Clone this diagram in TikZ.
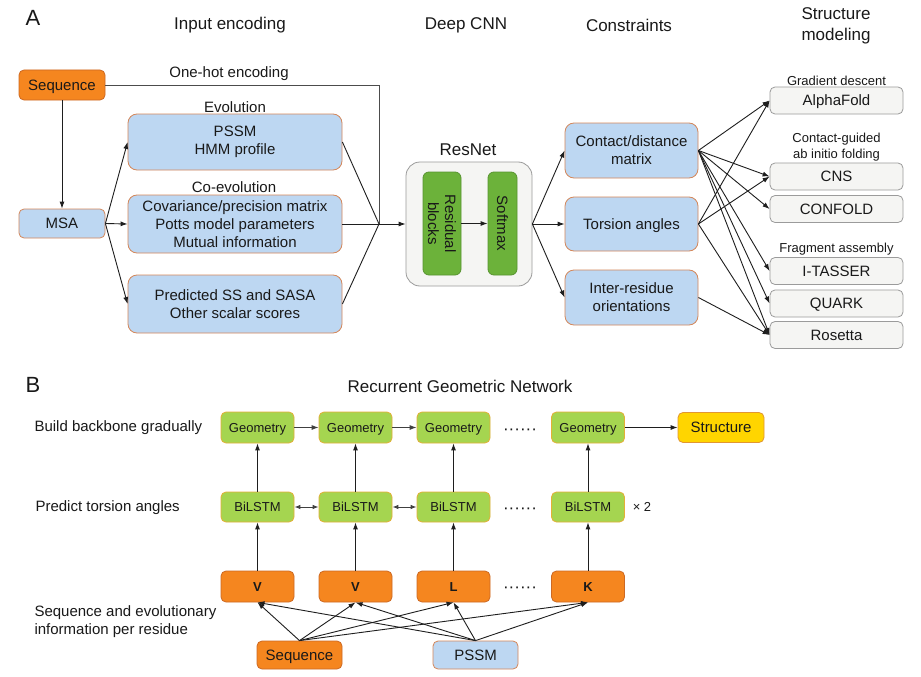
\documentclass[tikz,border=0pt]{standalone}
\usepackage{fontspec}
\setmainfont{Liberation Sans}
\usetikzlibrary{arrows.meta}
\definecolor{orangeF}{RGB}{245,134,31}
\definecolor{orangeD}{RGB}{205,105,35}
\definecolor{blueF}{RGB}{189,215,242}
\definecolor{blueD}{RGB}{212,135,90}
\definecolor{greenA}{RGB}{108,178,58}
\definecolor{greenAD}{RGB}{88,148,48}
\definecolor{greenB}{RGB}{165,213,80}
\definecolor{greenBD}{RGB}{228,175,55}
\definecolor{yellowF}{RGB}{255,213,0}
\definecolor{yellowD}{RGB}{225,150,50}
\definecolor{grayF}{RGB}{245,245,243}
\definecolor{grayD}{RGB}{155,155,155}
\definecolor{txt}{RGB}{25,25,25}
\definecolor{lnk}{RGB}{30,30,30}
\newcommand{\fsz}[2]{\fontsize{#1}{#2}\selectfont}
\begin{document}
\begin{tikzpicture}[x=1pt,y=-1pt,
  every node/.style={text=txt},
  basebox/.style={draw, line width=0.8pt, inner sep=0pt, align=center, font=\fsz{15}{18}},
  one15/.style={text height=10.8pt, text depth=0pt},
  one13/.style={text height=9.4pt, text depth=0pt},
  orangebox/.style={basebox, draw=orangeD, fill=orangeF, rounded corners=5pt},
  bluebox/.style={basebox, draw=blueD, fill=blueF, rounded corners=9pt},
  smallblue/.style={basebox, draw=blueD, fill=blueF, rounded corners=5pt},
  graybox/.style={basebox, one15, draw=grayD, fill=grayF, rounded corners=5pt, minimum width=133pt, minimum height=27pt},
  greenAbox/.style={basebox, draw=greenAD, fill=greenA, rounded corners=6pt},
  greenBbox/.style={basebox, one13, draw=greenBD, fill=greenB, rounded corners=5pt, font=\fsz{13}{16}, minimum width=73pt},
  resbox/.style={basebox, one13, draw=orangeD, fill=orangeF, rounded corners=5pt, font=\fsz{13}{16}\bfseries, minimum width=73pt, minimum height=31pt},
  yellowbox/.style={basebox, one15, draw=yellowD, fill=yellowF, rounded corners=5pt},
  header/.style={align=center, font=\fsz{17}{21}},
  lbl/.style={align=center, font=\fsz{15}{18}},
  slbl/.style={align=center, font=\fsz{13}{16}},
  panel/.style={font=\fsz{22}{26}},
  ln/.style={line width=0.9pt, draw=lnk},
  arr/.style={ln, -{Latex[length=7pt,width=5pt]}},
  darr/.style={ln, {Latex[length=6pt,width=4.5pt]}-{Latex[length=6pt,width=4.5pt]}},
  dots/.style={font=\fsz{17}{20}}
]
\path[fill=white] (0,0) rectangle (921,677);
\useasboundingbox (0,0) rectangle (921,677);

% ---------------- Panel A ----------------
\node[panel] (labA) at (33,18) {A};
\node[header] (hIn) at (230,25) {Input encoding};
\node[header] (hCNN) at (466,25) {Deep CNN};
\node[header] (hCon) at (629,25) {Constraints};
\node[header] (hStr) at (836,26) {Structure\\modeling};

\node[orangebox, one15, minimum width=86pt, minimum height=30pt] (seqA) at (62,85) {Sequence};
\node[smallblue, one15, minimum width=86pt, minimum height=29pt] (msa) at (62,223.5) {MSA};

\node[lbl] (lEvo) at (235,107) {Evolution};
\node[bluebox, minimum width=214pt, minimum height=56pt] (pssmA) at (235,142) {PSSM\\HMM profile};
\node[lbl] (lCoevo) at (234,187) {Co-evolution};
\node[bluebox, minimum width=214pt, minimum height=58pt] (cov) at (235,224) {Covariance/precision matrix\\Potts model parameters\\Mutual information};
\node[bluebox, minimum width=214pt, minimum height=58pt] (pred) at (235,304) {Predicted SS and SASA\\Other scalar scores};

\node[lbl] (lOne) at (229,74) {One-hot encoding};
\coordinate (j) at (379,224);

\node[header] (lRes) at (468,150) {ResNet};
\node[basebox, draw=grayD, fill=grayF, rounded corners=14pt, minimum width=126pt, minimum height=124pt] (resnet) at (469,224) {};
\node[greenAbox, minimum width=38pt, minimum height=103pt] (resblk) at (442,223.5) {};
\node[rotate=-90, align=center, font=\fsz{15}{17}] (resblkT) at (442,223.5) {Residual\\blocks};
\node[greenAbox, minimum width=29pt, minimum height=103pt] (soft) at (502.5,223.5) {};
\node[rotate=-90, font=\fsz{15}{17}] (softT) at (502.5,223.5) {Softmax};

\node[bluebox, minimum width=133pt, minimum height=55pt] (contact) at (631.5,150.5) {Contact/distance\\matrix};
\node[bluebox, one15, minimum width=133pt, minimum height=54pt] (torsion) at (631.5,224) {Torsion angles};
\node[bluebox, minimum width=133pt, minimum height=55pt] (inter) at (631.5,297.5) {Inter-residue\\orientations};

\node[slbl] (lGrad) at (836.5,81) {Gradient descent};
\node[graybox] (af) at (836.5,100.5) {AlphaFold};
\node[slbl] (lCg) at (836.5,147) {Contact-guided\\ab initio folding};
\node[graybox] (cns) at (836.5,176.5) {CNS};
\node[graybox] (confold) at (836.5,209) {CONFOLD};
\node[slbl] (lFrag) at (836.5,249) {Fragment assembly};
\node[graybox] (itasser) at (836.5,271) {I-TASSER};
\node[graybox] (quark) at (836.5,303.5) {QUARK};
\node[graybox] (rosetta) at (836.5,335) {Rosetta};

% connectors A
\draw[arr] (seqA) -- (msa);
\draw[ln, draw=black!70] (seqA.east) -| (j);
\draw[arr] (msa.east) -- (pssmA.west);
\draw[arr] (msa.east) -- (cov.west);
\draw[arr] (msa.east) -- (pred.west);
\draw[ln] (pssmA.east) -- (j);
\draw[ln] (cov.east) -- (j);
\draw[ln] (pred.east) -- (j);
\draw[arr] (j) -- (resnet.west);
\draw[arr] (resblk.east) -- (soft.west);
\draw[arr] (resnet.east) -- (contact.west);
\draw[arr] (resnet.east) -- (torsion.west);
\draw[arr] (resnet.east) -- (inter.west);
\foreach \t in {af,cns,confold,itasser,quark,rosetta}
  \draw[arr] (contact.east) -- (\t.west);
\foreach \t in {af,cns,rosetta}
  \draw[arr] (torsion.east) -- (\t.west);
\draw[arr] (inter.east) -- (rosetta.west);

% ---------------- Panel B ----------------
\node[panel] (labB) at (33,385) {B};
\node[header] (hRGN) at (460,386) {Recurrent Geometric Network};
\node[lbl, anchor=west] (lBuild) at (31,428) {Build backbone gradually};
\node[lbl, anchor=west] (lPred) at (32,508) {Predict torsion angles};
\node[lbl, anchor=west, align=left] (lSeqEvo) at (31,622) {Sequence and evolutionary\\information per residue};

\node[greenBbox, minimum height=31pt] (g1) at (257.5,427.5) {Geometry};
\node[greenBbox, minimum height=31pt] (g2) at (355.5,427.5) {Geometry};
\node[greenBbox, minimum height=31pt] (g3) at (453.5,427.5) {Geometry};
\node[greenBbox, minimum height=31pt] (g4) at (588,427.5) {Geometry};
\node[yellowbox, minimum width=86pt, minimum height=30pt] (struct) at (721,427.5) {Structure};

\node[greenBbox, minimum height=30pt] (b1) at (257.5,507) {BiLSTM};
\node[greenBbox, minimum height=30pt] (b2) at (355.5,507) {BiLSTM};
\node[greenBbox, minimum height=30pt] (b3) at (453.5,507) {BiLSTM};
\node[greenBbox, minimum height=30pt] (b4) at (588,507) {BiLSTM};
\node[slbl] (times) at (642,507) {× 2};

\node[resbox] (r1) at (257.5,586.5) {V};
\node[resbox] (r2) at (355.5,586.5) {V};
\node[resbox] (r3) at (453.5,586.5) {L};
\node[resbox] (r4) at (588,586.5) {K};

\node[dots] (d1) at (520,432) {······};
\node[dots] (d2) at (520,511) {······};
\node[dots] (d3) at (520,590) {······};

\node[orangebox, one15, minimum width=85pt, minimum height=28pt] (seqB) at (299.5,655) {Sequence};
\node[smallblue, one15, minimum width=85pt, minimum height=28pt] (pssmB) at (475.5,655) {PSSM};

% connectors B
\draw[arr, draw=black!75] (g1) -- (g2);
\draw[arr, draw=black!75] (g2) -- (g3);
\draw[arr] (g4) -- (struct);
\draw[darr, draw=black!75] (b1) -- (b2);
\draw[darr, draw=black!75] (b2) -- (b3);
\foreach \i in {1,2,3,4} {
  \draw[arr] (r\i) -- (b\i);
  \draw[arr] (b\i) -- (g\i);
  \draw[arr] (seqB.north) -- (r\i.south);
  \draw[arr] (pssmB.north) -- (r\i.south);
}
\end{tikzpicture}
\end{document}
